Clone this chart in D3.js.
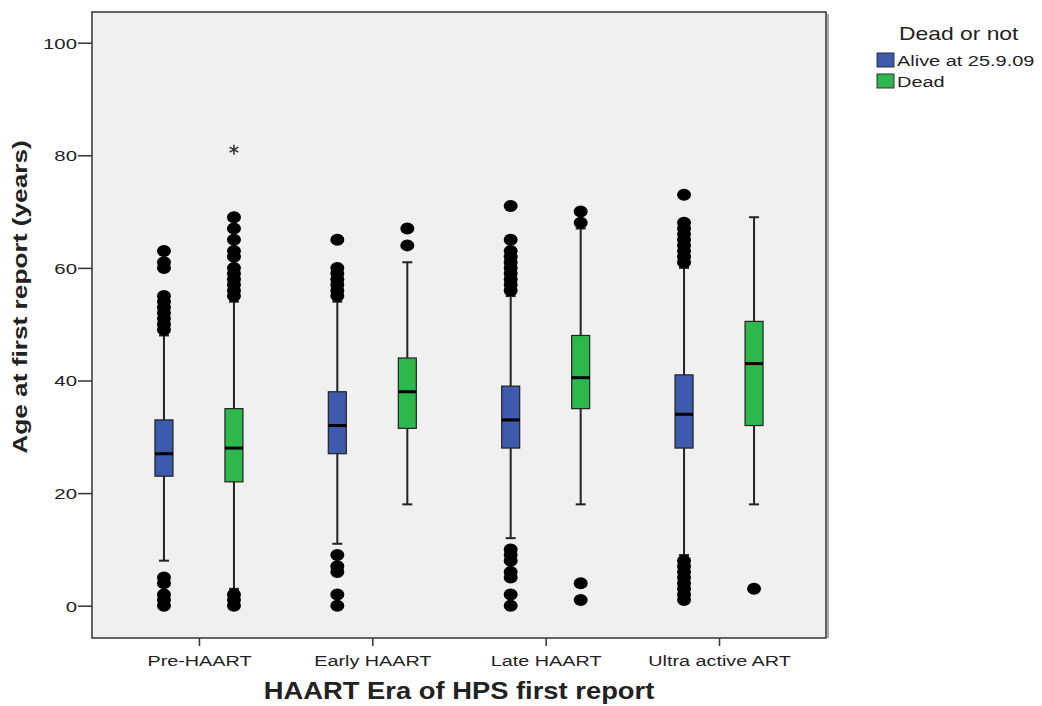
<!DOCTYPE html>
<html>
<head>
<meta charset="utf-8">
<script src="https://cdn.jsdelivr.net/npm/d3@7"></script>
<style>
  body { margin: 0; background: #fff; }
  svg text { font-family: "Liberation Sans", Arial, sans-serif; fill: #222; }
</style>
</head>
<body>
<svg width="1042" height="706"></svg>
<script>
const eras = ["Pre-HAART", "Early HAART", "Late HAART", "Ultra active ART"];
const status = ["Alive at 25.9.09", "Dead"];
const yTicks = [0, 20, 40, 60, 80, 100];

// alive group, one value per era
const aliveLow  = [8, 11, 12, 9];
const aliveQ1   = [23, 27, 28, 28];
const aliveMed  = [27, 32, 33, 34];
const aliveQ3   = [33, 38, 39, 41];
const aliveHigh = [48, 54, 55, 60];
const aliveOutliers = [
  [0, 1, 2, 4, 5, 49, 50, 51, 52, 53, 54, 55, 60, 61, 63],
  [0, 2, 6, 7, 9, 55, 56, 57, 58, 59, 60, 65],
  [0, 2, 5, 6, 8, 9, 10, 56, 57, 58, 59, 60, 61, 62, 63, 65, 71],
  [1, 2, 3, 4, 5, 6, 7, 8, 61, 62, 63, 64, 65, 66, 67, 68, 73]
];
const aliveExtremes = [[], [], [], []];

// dead group
const deadLow  = [3, 18, 18, 18];
const deadQ1   = [22, 31.5, 35, 32];
const deadMed  = [28, 38, 40.5, 43];
const deadQ3   = [35, 44, 48, 50.5];
const deadHigh = [54, 61, 67, 69];
const deadOutliers = [
  [0, 1, 2, 55, 56, 57, 58, 59, 60, 62, 63, 65, 67, 69],
  [64, 67],
  [1, 4, 68, 70],
  [3]
];
const deadExtremes = [[81], [], [], []];

const colors = ["#3d5aad", "#2db84b"];

const svg = d3.select("svg");
const frame = { left: 92, right: 826, top: 12, bottom: 638 };

const x = d3.scalePoint()
  .domain(eras)
  .range([frame.left, frame.right])
  .padding(0.617);

const offset = d3.scalePoint()
  .domain(status)
  .range([-35, 35]);

const y = d3.scaleLinear()
  .domain([0, 100])
  .range([605.7, 42.7]);

const boxW = 18;

// build one record per box
const boxes = [];
eras.forEach((era, i) => {
  boxes.push({ era, group: status[0], low: aliveLow[i], q1: aliveQ1[i], med: aliveMed[i], q3: aliveQ3[i], high: aliveHigh[i], out: aliveOutliers[i], ext: aliveExtremes[i] });
  boxes.push({ era, group: status[1], low: deadLow[i], q1: deadQ1[i], med: deadMed[i], q3: deadQ3[i], high: deadHigh[i], out: deadOutliers[i], ext: deadExtremes[i] });
});
const cx = d => x(d.era) + offset(d.group);

// plot background + frame
svg.append("line")
  .attr("x1", frame.right + 2).attr("x2", frame.right + 2)
  .attr("y1", frame.top + 2).attr("y2", frame.bottom)
  .attr("stroke", "#aaa").attr("stroke-width", 2);
svg.append("rect")
  .attr("x", frame.left).attr("y", frame.top)
  .attr("width", frame.right - frame.left).attr("height", frame.bottom - frame.top)
  .attr("fill", "#f0f0f0")
  .attr("stroke", "#333").attr("stroke-width", 1.5);

// axes
const yAxis = svg.append("g")
  .attr("transform", `translate(${frame.left},0)`)
  .call(d3.axisLeft(y).tickValues(yTicks).tickSize(14).tickPadding(2));
yAxis.select(".domain").remove();
yAxis.selectAll(".tick line").attr("stroke", "#333").attr("stroke-width", 1.5);
yAxis.selectAll("text")
  .attr("x", 0).attr("dy", "0.36em")
  .attr("transform", "translate(-15,0) scale(1.36,1)")
  .style("font-size", "15px").style("fill", "#222");

const xAxis = svg.append("g")
  .attr("transform", `translate(0,${frame.bottom})`)
  .call(d3.axisBottom(x).tickSize(8));
xAxis.select(".domain").remove();
xAxis.selectAll(".tick line").attr("stroke", "#333").attr("stroke-width", 1.5);
xAxis.selectAll("text")
  .attr("y", 0).attr("dy", 0)
  .attr("transform", "translate(0,28) scale(1.32,1)")
  .style("font-size", "15px").style("fill", "#222");

// axis titles
svg.append("text")
  .attr("transform", "translate(459,699) scale(1.19,1)")
  .attr("text-anchor", "middle")
  .style("font-size", "23px").style("font-weight", "bold")
  .text("HAART Era of HPS first report");

svg.append("text")
  .attr("transform", "translate(27,297) rotate(-90) scale(1.25,1)")
  .attr("text-anchor", "middle")
  .style("font-size", "21px").style("font-weight", "bold")
  .text("Age at first report (years)");

// whiskers
const g = svg.append("g");
g.selectAll(".whisker")
  .data(boxes)
  .join("line")
  .attr("class", "whisker")
  .attr("x1", cx).attr("x2", cx)
  .attr("y1", d => y(d.low)).attr("y2", d => y(d.high))
  .attr("stroke", "#222").attr("stroke-width", 2);

["low", "high"].forEach(k => {
  g.selectAll(".cap-" + k)
    .data(boxes)
    .join("line")
    .attr("class", "cap-" + k)
    .attr("x1", d => cx(d) - 5).attr("x2", d => cx(d) + 5)
    .attr("y1", d => y(d[k])).attr("y2", d => y(d[k]))
    .attr("stroke", "#222").attr("stroke-width", 2);
});

// boxes
g.selectAll(".box")
  .data(boxes)
  .join("rect")
  .attr("class", "box")
  .attr("x", d => cx(d) - boxW / 2)
  .attr("y", d => y(d.q3))
  .attr("width", boxW)
  .attr("height", d => y(d.q1) - y(d.q3))
  .attr("fill", d => colors[status.indexOf(d.group)])
  .attr("stroke", "#222").attr("stroke-width", 1.2);

g.selectAll(".median")
  .data(boxes)
  .join("line")
  .attr("class", "median")
  .attr("x1", d => cx(d) - boxW / 2).attr("x2", d => cx(d) + boxW / 2)
  .attr("y1", d => y(d.med)).attr("y2", d => y(d.med))
  .attr("stroke", "#000").attr("stroke-width", 3);

// outliers
const outPts = boxes.flatMap(d => d.out.map(v => ({ x: cx(d), v })));
g.selectAll(".outlier")
  .data(outPts)
  .join("ellipse")
  .attr("class", "outlier")
  .attr("cx", d => d.x).attr("cy", d => y(d.v))
  .attr("rx", 7).attr("ry", 6)
  .attr("fill", "#000");

const extPts = boxes.flatMap(d => d.ext.map(v => ({ x: cx(d), v })));
g.selectAll(".extreme")
  .data(extPts)
  .join("path")
  .attr("class", "extreme")
  .attr("transform", d => `translate(${d.x},${y(d.v)})`)
  .attr("d", d3.symbol().type(d3.symbolAsterisk).size(70))
  .attr("fill", "none")
  .attr("stroke", "#333").attr("stroke-width", 1.6);

// legend
const legend = svg.append("g");
legend.append("text")
  .attr("transform", "translate(899,40) scale(1.27,1)")
  .style("font-size", "18px")
  .text("Dead or not");

const items = legend.selectAll(".item")
  .data(status)
  .join("g")
  .attr("class", "item")
  .attr("transform", (d, i) => `translate(877,${53 + i * 21})`);
items.append("rect")
  .attr("width", 17).attr("height", 14)
  .attr("fill", (d, i) => colors[i])
  .attr("stroke", "#333").attr("stroke-width", 1);
items.append("text")
  .attr("transform", "translate(20,13) scale(1.33,1)")
  .style("font-size", "15px")
  .text(d => d);
</script>
</body>
</html>
